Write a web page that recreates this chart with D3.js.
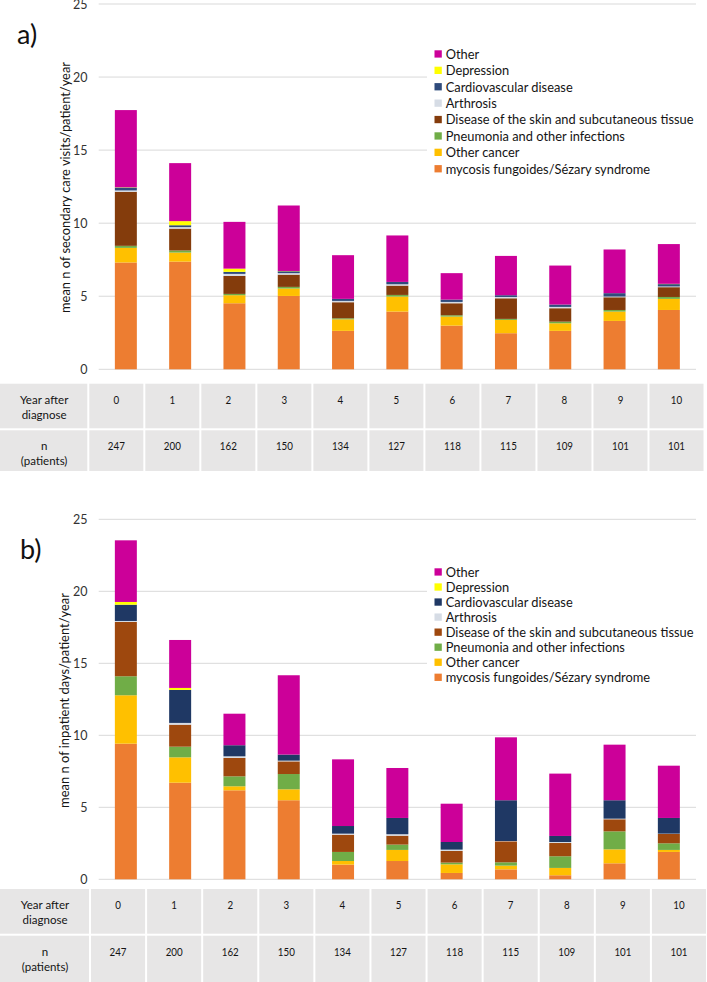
<!DOCTYPE html>
<html><head><meta charset="utf-8">
<script src="https://cdn.jsdelivr.net/npm/d3@7"></script>
<style>body{margin:0;background:#fff} svg{display:block;font-family:Lato,"Open Sans",sans-serif}</style>
</head><body><svg id="c" width="707" height="982"></svg>
<script>
const years=[0,1,2,3,4,5,6,7,8,9,10];
const patients=[247,200,162,150,134,127,118,115,109,101,101];
const seriesNames=["mycosis fungoides/Sézary syndrome","Other cancer","Pneumonia and other infections","Disease of the skin and subcutaneous tissue","Arthrosis","Cardiovascular disease","Depression","Other"];
const yTicks=[0,5,10,15,20,25];
const rowLabels=[["Year after","diagnose"],["n","(patients)"]];

// panel a: mean n of secondary care visits/patient/year
const aMF    =[7.31,7.37,4.52,5.02,2.63,3.95,2.99,2.47,2.63,3.31,4.06];
const aOC    =[1.00,0.62,0.55,0.51,0.79,1.03,0.62,0.91,0.52,0.64,0.76];
const aPN    =[0.14,0.14,0.09,0.11,0.07,0.11,0.09,0.07,0.11,0.11,0.13];
const aSkin  =[3.70,1.50,1.23,0.84,1.10,0.64,0.82,1.41,0.92,0.87,0.67];
const aArth  =[0.09,0.10,0.14,0.10,0.09,0.09,0.09,0.09,0.09,0.05,0.05];
const aCardio=[0.20,0.13,0.14,0.13,0.14,0.16,0.16,0.12,0.16,0.23,0.16];
const aDep   =[0.02,0.28,0.22,0.02,0.00,0.00,0.00,0.00,0.00,0.00,0.02];
const aOther =[5.28,3.97,3.20,4.48,2.99,3.18,1.81,2.69,2.67,2.99,2.72];

// panel b: mean n of inpatient days/patient/year
const bMF    =[9.42,6.71,6.18,5.49,1.02,1.27,0.44,0.69,0.28,1.11,1.90];
const bOC    =[3.36,1.76,0.28,0.76,0.25,0.77,0.60,0.26,0.51,0.97,0.14];
const bPN    =[1.32,0.74,0.69,1.06,0.63,0.37,0.12,0.23,0.81,1.25,0.46];
const bSkin  =[3.77,1.53,1.28,0.88,1.20,0.62,0.81,1.46,0.92,0.84,0.65];
const bArth  =[0.07,0.12,0.11,0.05,0.07,0.10,0.09,0.02,0.07,0.04,0.02];
const bCardio=[1.13,2.29,0.77,0.42,0.53,1.13,0.53,2.83,0.42,1.28,1.09];
const bDep   =[0.19,0.14,0.00,0.00,0.00,0.00,0.00,0.00,0.00,0.00,0.00];
const bOther =[4.28,3.33,2.19,5.51,4.63,3.47,2.66,4.37,4.33,3.86,3.63];

const colorsA=["#ED7D31","#FFC000","#70AD47","#843C0C","#D6DCE5","#2F4B7C","#FFFF00","#CC0099"];
const colorsB=["#ED7D31","#FFC000","#70AD47","#9E480E","#D6DCE5","#1F3864","#FFFF00","#CC0099"];

const svg=d3.select("#c");

function textW(text,size){
  const t=svg.append("text").attr("font-size",size).text(text);
  const w=t.node().getComputedTextLength(); t.remove();
  return w;
}
const legendFS=13.6, legendSX=248/textW(seriesNames[3],legendFS);
const tableFS=12, tableSX=48.5/textW("Year after",tableFS);
const numSX=17/textW("247",tableFS);

// text with horizontal compression
function ctext(parent,x,y,s,size,sx,anchor){
  return parent.append("text").attr("transform",`translate(${x},${y}) scale(${sx},1)`)
    .attr("dy","0.35em").attr("text-anchor",anchor||"start").attr("font-size",size).attr("fill","#141414").text(s);
}

function panel(cfg){
  const keys=seriesNames;
  const rows=years.map((yr,i)=>{const o={year:yr};cfg.series.forEach((s,k)=>o[keys[k]]=s[i]);return o;});
  const stack=d3.stack().keys(keys)(rows);
  const x=d3.scaleBand().domain(years).range([98.7,696]).paddingInner(0.595).paddingOuter(0.2975);
  const y=d3.scaleLinear().domain([0,25]).range([cfg.y0,cfg.y25]);
  const g=svg.append("g");
  // grid
  g.append("g").selectAll("line").data(yTicks).join("line")
    .attr("x1",98.7).attr("x2",696).attr("y1",d=>y(d)).attr("y2",d=>y(d))
    .attr("stroke","#D9D9D9").attr("stroke-width",1);
  // y axis labels
  const ax=g.append("g").attr("transform","translate(91.5,0)")
    .call(d3.axisLeft(y).tickValues(yTicks).tickSize(0).tickPadding(4));
  ax.select(".domain").remove();
  ax.selectAll("text").attr("font-size",12.5).attr("fill","#333").attr("font-family","Lato");
  // legend background
  g.append("rect").attr("x",427).attr("y",cfg.legTop-12).attr("width",272)
    .attr("height",cfg.legStep*8+14).attr("fill","#fff");
  // bars
  stack.forEach((layer,k)=>{
    g.append("g").attr("fill",cfg.colors[k]).selectAll("rect").data(layer).join("rect")
      .attr("x",d=>x(d.data.year)).attr("width",x.bandwidth())
      .attr("y",d=>y(d[1])).attr("height",d=>Math.max(0,y(d[0])-y(d[1])));
  });
  // legend
  const order=d3.range(8).reverse();
  const lg=g.append("g");
  order.forEach((k,i)=>{
    const cy=cfg.legTop+i*cfg.legStep;
    lg.append("rect").attr("x",434.5).attr("y",cy-3.7).attr("width",7.3).attr("height",7.3).attr("fill",cfg.colors[k]);
    ctext(lg,445.7,cy,keys[k],legendFS,legendSX);
  });
  // y title
  const tfs=12.4, tsx=cfg.titleLen/textW(cfg.title,tfs);
  g.append("text").attr("transform",`translate(${cfg.titleX},${cfg.titleY}) rotate(-90) scale(${tsx},1)`)
    .attr("text-anchor","middle").attr("dy","0.35em").attr("font-size",tfs).attr("fill","#141414").text(cfg.title);
  // panel label
  g.append("text").attr("x",cfg.labX).attr("y",cfg.labY).attr("font-size",27).attr("fill","#111").text(cfg.label);
  // table
  const tx=d3.scaleBand().domain(years).range([cfg.t0,cfg.t1]);
  const tb=g.append("g");
  const rowsY=[[cfg.tTop,cfg.tMid],[cfg.tMid,cfg.tBot]];
  rowsY.forEach(([a,b],r)=>{
    tb.append("rect").attr("x",0).attr("y",a+1).attr("width",cfg.t0-1).attr("height",b-a-2).attr("fill","#E7E6E6");
    years.forEach(yr=>{
      tb.append("rect").attr("x",tx(yr)+1).attr("y",a+1).attr("width",tx.bandwidth()-2).attr("height",b-a-2).attr("fill","#E7E6E6");
    });
    rowLabels[r].forEach((s,li)=>{
      ctext(tb,cfg.t0/2,a+16.8+li*15,s,tableFS,tableSX,"middle");
    });
    years.forEach((yr,i)=>{
      ctext(tb,tx(yr)+tx.bandwidth()/2,a+16.8,r===0?yr:patients[i],tableFS,numSX,"middle");
    });
  });
}

panel({series:[aMF,aOC,aPN,aSkin,aArth,aCardio,aDep,aOther],colors:colorsA,
  y0:369.3,y25:4,legTop:54,legStep:16.4,
  title:"mean n of secondary care visits/patient/year",titleX:66,titleY:187.5,titleLen:251,
  label:"a)",labX:17,labY:44,
  t0:88.3,t1:704.5,tTop:382.7,tMid:429.3,tBot:472});
panel({series:[bMF,bOC,bPN,bSkin,bArth,bCardio,bDep,bOther],colors:colorsB,
  y0:879.3,y25:519.3,legTop:572,legStep:15.05,
  title:"mean n of inpatient days/patient/year",titleX:65,titleY:700.5,titleLen:215,
  label:"b)",labX:20,labY:559,
  t0:90,t1:707,tTop:888,tMid:934.7,tBot:984});
</script></body></html>
